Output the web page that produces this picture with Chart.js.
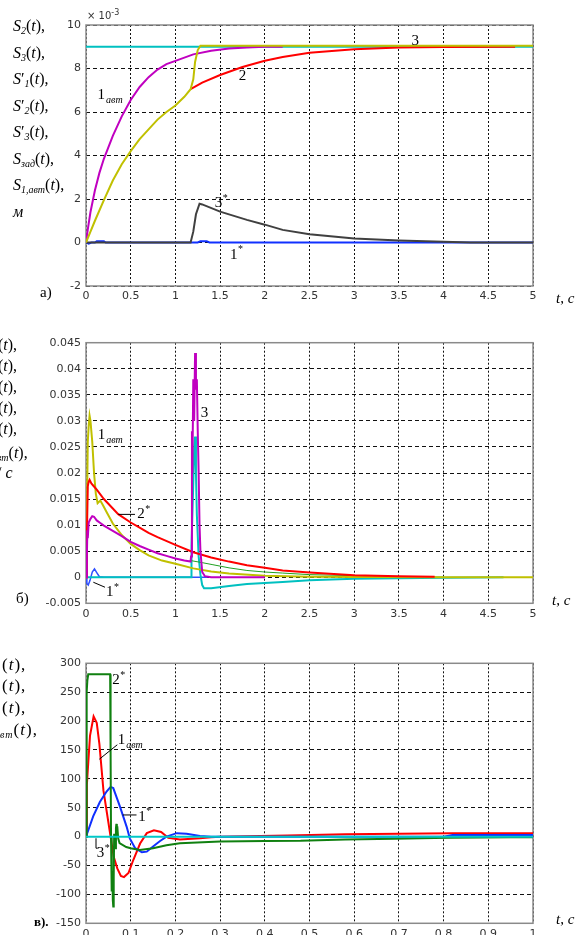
<!DOCTYPE html>
<html>
<head>
<meta charset="utf-8">
<script src="https://cdn.jsdelivr.net/npm/chart.js@4/dist/chart.umd.min.js"></script>
<style>
  html, body { margin: 0; padding: 0; background: #fff; overflow: hidden; }
  #page { position: relative; width: 586px; height: 935px; overflow: hidden; }
  canvas { position: absolute; left: 0; }
  .lbl { position: absolute; font-family: "Liberation Serif", "DejaVu Serif", serif; color: #000; white-space: nowrap; }
  .lbl i { font-style: italic; }
  .lbl sub { font-size: 10px; font-style: italic; vertical-align: -3px; }
  .ylab { font-size: 16px; line-height: 21.5px; }
  .tick { position: absolute; font-family: "DejaVu Sans", sans-serif; font-size: 10px; color: #333; }
</style>
</head>
<body>
<div id="page">
  <canvas id="chartA" width="586" height="310" style="top:0"></canvas>
  <canvas id="chartB" width="586" height="310" style="top:312px"></canvas>
  <canvas id="chartC" width="586" height="310" style="top:625px"></canvas>

  <!-- подписи оси Y, панель а -->
  <div class="lbl ylab" style="left:13px; top:15px">
    <div><i>S</i><sub>2</sub>(<i>t</i>),</div>
    <div><i>S</i><sub>3</sub>(<i>t</i>),</div>
    <div><i>S</i>′<sub>1</sub>(<i>t</i>),</div>
    <div><i>S</i>′<sub>2</sub>(<i>t</i>),</div>
    <div><i>S</i>′<sub>3</sub>(<i>t</i>),</div>
    <div><i>S</i><sub>зад</sub>(<i>t</i>),</div>
    <div><i>S</i><sub>1,авт</sub>(<i>t</i>),</div>
    <div><i>м</i></div>
  </div>
  <div class="tick" style="left:87px; top:8px">× 10<sup style="font-size:8px">-3</sup></div>

  <!-- панель б (обрезано слева) -->
  <div class="lbl ylab" style="left:-2px; top:334px; line-height:21px">
    <div>(<i>t</i>),</div>
    <div>(<i>t</i>),</div>
    <div>(<i>t</i>),</div>
    <div>(<i>t</i>),</div>
    <div>(<i>t</i>),</div>
  </div>
  <div class="lbl ylab" style="left:-8px; top:442px"><sub>авт</sub>(<i>t</i>),</div>
  <div class="lbl ylab" style="left:-3px; top:462px">/ <i>с</i></div>

  <!-- панель в (обрезано слева) -->
  <div class="lbl ylab" style="left:2px; top:654px; font-size:17px; letter-spacing:1px; line-height:21.3px">
    <div>(<i>t</i>),</div>
    <div>(<i>t</i>),</div>
    <div>(<i>t</i>),</div>
  </div>
  <div class="lbl ylab" style="left:-6px; top:719px; font-size:17px; letter-spacing:1px"><sub>авт</sub>(<i>t</i>),</div>

  <!-- буквы панелей и подписи оси t -->
  <div class="lbl" style="left:40px; top:284px; font-size:15px">а)</div>
  <div class="lbl" style="left:16px; top:590px; font-size:15px">б)</div>
  <div class="lbl" style="left:34px; top:914px; font-size:13px; font-weight:bold">в).</div>
  <div class="lbl" style="left:556px; top:290px; font-size:15px"><i>t</i>, <i>с</i></div>
  <div class="lbl" style="left:552px; top:592px; font-size:15px"><i>t</i>, <i>с</i></div>
  <div class="lbl" style="left:556px; top:911px; font-size:15px"><i>t</i>, <i>с</i></div>
</div>

<script>
// ---------- панель а: перемещения, ×10^-3 м ----------
const tA_zad = [0, 5];
const sA_zad = [9, 9];
const tA_1avt = [0, 0.02, 0.05, 0.1, 0.15, 0.2, 0.3, 0.4, 0.5, 0.6, 0.7, 0.8, 0.9, 1.0, 1.2, 1.4, 1.6, 1.8, 2.0, 2.2];
const sA_1avt = [0, 0.6, 1.4, 2.4, 3.2, 3.85, 4.9, 5.8, 6.55, 7.15, 7.6, 7.95, 8.2, 8.35, 8.65, 8.82, 8.92, 8.97, 9.0, 9.0];
const tA_3 = [0, 0.05, 0.1, 0.2, 0.3, 0.4, 0.5, 0.6, 0.7, 0.8, 0.9, 1.0, 1.1, 1.17, 1.2, 1.22, 1.25, 1.28, 5];
const sA_3 = [0, 0.5, 1.0, 1.95, 2.85, 3.6, 4.2, 4.75, 5.2, 5.65, 6.0, 6.3, 6.7, 7.05, 7.5, 8.3, 8.85, 9.05, 9.05];
const tA_2 = [1.17, 1.3, 1.5, 1.75, 2.0, 2.2, 2.5, 3, 3.5, 4, 4.8];
const sA_2 = [7.05, 7.35, 7.7, 8.07, 8.36, 8.53, 8.72, 8.88, 8.96, 8.99, 9.0];
const tA_3s = [0, 1.17, 1.2, 1.23, 1.27, 1.3, 1.5, 1.8, 2.0, 2.2, 2.5, 3, 3.5, 4, 4.3, 5];
const sA_3s = [0, 0, 0.5, 1.3, 1.78, 1.75, 1.42, 1.04, 0.82, 0.58, 0.38, 0.18, 0.09, 0.04, 0, 0];
const tA_1s = [0, 0.03, 0.06, 0.1, 0.12, 0.2, 0.22, 1.25, 1.28, 1.35, 1.38, 5];
const sA_1s = [0, -0.05, 0, 0, 0.06, 0.06, 0, 0, 0.06, 0.06, 0, 0];

// ---------- панель б: скорости, м/с ----------
const tB_3 = [0, 0.01, 0.02, 0.03, 0.04, 0.05, 0.07, 0.09, 0.11, 0.13, 0.16, 0.19, 0.23, 0.3, 0.4, 0.5, 0.6, 0.7, 0.85, 1.0, 1.2, 1.4, 1.6, 2.0, 2.5, 3, 4, 5];
const vB_3 = [0, 0.012, 0.026, 0.029, 0.031, 0.030, 0.026, 0.020, 0.016, 0.0142, 0.0147, 0.0138, 0.0125, 0.0103, 0.0081, 0.0064, 0.0052, 0.0042, 0.0032, 0.0026, 0.0017, 0.0011, 0.0007, 0.0003, 0.0001, 0.00005, 0, 0];
const tB_2 = [0, 0.01, 0.02, 0.03, 0.04, 0.06, 0.08, 0.12, 0.2, 0.3, 0.36, 0.5, 0.6, 0.7, 0.8, 1.0, 1.2, 1.4, 1.6, 1.8, 2.0, 2.2, 2.5, 3, 3.5, 3.9];
const vB_2 = [0, 0.008, 0.0175, 0.0183, 0.0187, 0.018, 0.0176, 0.0168, 0.015, 0.0132, 0.0121, 0.0105, 0.0095, 0.0085, 0.0077, 0.0062, 0.0048, 0.0038, 0.003, 0.0023, 0.0018, 0.0013, 0.0009, 0.0004, 0.0002, 0.0001];
const tB_1avt = [0, 0.01, 0.015, 0.02, 0.03, 0.05, 0.07, 0.09, 0.12, 0.16, 0.2, 0.3, 0.4, 0.5, 0.6, 0.7, 0.8, 0.9, 1.0, 1.1, 1.17, 1.175, 1.185, 1.19, 1.2, 1.21, 1.22, 1.23, 1.24, 1.25, 1.26, 1.27, 1.28, 1.3, 1.33, 1.4, 2.0];
const vB_1avt = [0, 0.004, 0.009, 0.0075, 0.0105, 0.0112, 0.0117, 0.0116, 0.0109, 0.0104, 0.0099, 0.0089, 0.0079, 0.0068, 0.006, 0.0053, 0.0046, 0.0041, 0.0036, 0.0032, 0.003, 0.004, 0.028, 0.02, 0.038, 0.03, 0.043, 0.036, 0.038, 0.028, 0.02, 0.01, 0.005, 0.001, 0.0002, 0, 0];
const tB_g = [1.17, 1.3, 1.42, 1.6, 1.8, 2.0, 2.2, 2.5, 3, 3.5, 4];
const vB_g = [0.0032, 0.0028, 0.0024, 0.0018, 0.0013, 0.001, 0.0008, 0.0005, 0.0003, 0.0001, 0];
const tB_zad = [0, 1.175, 1.18, 1.2, 1.21, 1.22, 1.23, 1.24, 1.26, 1.28, 1.3, 1.32, 1.4, 1.6, 1.8, 2.0, 2.2, 2.5, 3, 3.5, 4, 4.67];
const vB_zad = [0, 0, 0.006, 0.018, 0.025, 0.027, 0.02, 0.012, 0.004, 0.0005, -0.0015, -0.0021, -0.0021, -0.0017, -0.0013, -0.0011, -0.0009, -0.0006, -0.0003, -0.0002, -0.0001, 0];
const tB_1s = [0, 0.01, 0.025, 0.045, 0.07, 0.095, 0.12, 0.15, 0.2, 1.36];
const vB_1s = [0, -0.0012, -0.0015, -0.0006, 0.001, 0.0016, 0.0009, 0.0001, 0, 0];

// ---------- панель в: ускорения ----------
const tC_2s = [0, 0.001, 0.002, 0.003, 0.005, 0.054, 0.055, 0.056, 0.057, 0.058, 0.059, 0.06, 0.061, 0.062, 0.063, 0.065, 0.067, 0.068, 0.069, 0.07, 0.072, 0.075, 0.09, 0.1, 0.12, 0.15, 0.18, 0.21, 0.3, 0.4, 0.48, 0.58, 0.69, 0.81, 0.95, 1.0];
const aC_2s = [0, 200, 250, 270, 281, 281, 150, 0, -40, -95, -60, -110, -121, -70, 5, -20, 15, 22, 10, 18, -3, -11, -18, -20, -23, -20, -15, -11.5, -8.5, -7.5, -7.3, -5, -3.5, -2, -1, -1];
const tC_1avt = [0, 0.002, 0.004, 0.009, 0.017, 0.024, 0.03, 0.039, 0.047, 0.055, 0.062, 0.07, 0.078, 0.085, 0.095, 0.106, 0.121, 0.136, 0.152, 0.168, 0.184, 0.21, 0.255, 0.28, 0.3, 0.45, 0.58, 0.82, 1.0];
const aC_1avt = [0, 90, 115, 175, 208, 197, 160, 80, 40, 0, -35, -55, -68, -70, -63, -40, -12, 6, 11, 8, -2, -5, -3, -1, 0, 2, 4, 6, 6];
const tC_1s = [0, 0.016, 0.031, 0.046, 0.055, 0.061, 0.076, 0.091, 0.098, 0.11, 0.125, 0.136, 0.15, 0.165, 0.18, 0.203, 0.225, 0.255, 0.28, 0.8, 0.82, 1.0];
const aC_1s = [0, 35, 60, 78, 86, 84, 52, 17, -3, -20, -27, -26, -17, -8, 0, 6, 5, 1, 0, 0, 3, 3];
const tC_3s = [0, 1];
const aC_3s = [0, 0];

// шкалы
const xTicksA = { min: 0, max: 5, step: 0.5 };
const yTicksA = { min: -2, max: 10, step: 2 };
const yTicksB = { min: -0.005, max: 0.045, step: 0.005 };
const xTicksC = { min: 0, max: 1, step: 0.1 };
const yTicksC = { min: -150, max: 300, step: 50 };

function pts(ts, vs) {
    return ts.map((t, i) => ({ x: t, y: vs[i] }));
}

function line(ts, vs, color, width) {
    return {
        data: pts(ts, vs),
        borderColor: color,
        borderWidth: width || 2,
        pointRadius: 0,
        tension: 0,
        fill: false
    };
}

// рамка осей
const framePlugin = {
    id: 'frame',
    beforeDatasetsDraw(chart) {
        const a = chart.chartArea;
        const ctx = chart.ctx;
        ctx.save();
        ctx.strokeStyle = '#8a8a8a';
        ctx.lineWidth = 1.5;
        ctx.strokeRect(a.left, a.top, a.right - a.left, a.bottom - a.top);
        ctx.restore();
    }
};

// подписи кривых (в координатах данных)
function notes(items) {
    return {
        id: 'notes',
        afterDatasetsDraw(chart) {
            const ctx = chart.ctx;
            const xs = chart.scales.x, ys = chart.scales.y;
            ctx.save();
            ctx.fillStyle = '#000';
            ctx.strokeStyle = '#000';
            ctx.lineWidth = 1;
            items.forEach(it => {
                if (it.line) {
                    ctx.beginPath();
                    ctx.moveTo(xs.getPixelForValue(it.line[0]), ys.getPixelForValue(it.line[1]));
                    for (let k = 2; k < it.line.length; k += 2) {
                        ctx.lineTo(xs.getPixelForValue(it.line[k]), ys.getPixelForValue(it.line[k + 1]));
                    }
                    ctx.stroke();
                    return;
                }
                const px = xs.getPixelForValue(it.x);
                const py = ys.getPixelForValue(it.y);
                ctx.textBaseline = 'middle';
                ctx.textAlign = 'left';
                ctx.font = '15px "Liberation Serif", serif';
                ctx.fillText(it.text, px, py);
                const w = ctx.measureText(it.text).width;
                if (it.sub) {
                    ctx.font = 'italic 10px "Liberation Serif", serif';
                    ctx.fillText(it.sub, px + w + 1, py + 5);
                }
                if (it.sup) {
                    ctx.font = '10px "Liberation Serif", serif';
                    ctx.fillText(it.sup, px + w + 0.5, py - 5);
                }
            });
            ctx.restore();
        }
    };
}

function fmt(v) {
    return String(parseFloat(Number(v).toFixed(6)));
}

function makePanel(id, datasets, xr, yr, top, bottom, items) {
    const H = 310;
    return new Chart(document.getElementById(id), {
        type: 'line',
        data: { datasets: datasets },
        options: {
            responsive: false,
            animation: false,
            layout: { padding: { left: 0, right: 53, top: top, bottom: 0 } },
            plugins: { legend: { display: false }, tooltip: { enabled: false } },
            scales: {
                x: {
                    type: 'linear',
                    min: xr.min, max: xr.max,
                    afterFit: s => { s.height = H - bottom; },
                    grid: { color: '#111', lineWidth: 1, drawTicks: false },
                    border: { display: false, dash: [2, 2] },
                    ticks: {
                        stepSize: xr.step, autoSkip: false, maxRotation: 0, padding: 4,
                        color: '#333', font: { family: 'DejaVu Sans', size: 11 },
                        callback: fmt
                    }
                },
                y: {
                    type: 'linear',
                    min: yr.min, max: yr.max,
                    afterFit: s => { s.width = 86; },
                    grid: { color: '#111', lineWidth: 1, drawTicks: false },
                    border: { display: false, dash: [4, 3] },
                    ticks: {
                        stepSize: yr.step, autoSkip: false, padding: 5,
                        color: '#333', font: { family: 'DejaVu Sans', size: 11 },
                        callback: fmt
                    }
                }
            }
        },
        plugins: [framePlugin, notes(items)]
    });
}

// первый в списке рисуется сверху
makePanel('chartA', [
    line(tA_3, sA_3, '#c0c000'),
    line(tA_2, sA_2, '#ff0000'),
    line(tA_1avt, sA_1avt, '#c000c0'),
    line(tA_zad, sA_zad, '#00c0c0'),
    line(tA_3s, sA_3s, '#404040'),
    line(tA_1s, sA_1s, '#1030ff')
], xTicksA, yTicksA, 25, 286, [
    { x: 3.64, y: 9.28, text: '3' },
    { x: 1.71, y: 7.66, text: '2' },
    { x: 0.13, y: 6.78, text: '1', sub: 'авт' },
    { x: 1.44, y: 1.81, text: '3', sup: '*' },
    { x: 1.61, y: -0.56, text: '1', sup: '*' }
]);

makePanel('chartB', [
    line(tB_1avt, vB_1avt, '#c000c0'),
    line(tB_2, vB_2, '#ff0000'),
    line(tB_3, vB_3, '#c0c000'),
    line(tB_g, vB_g, '#20a020', 1),
    line(tB_zad, vB_zad, '#00c0c0'),
    line(tB_1s, vB_1s, '#3050ff', 1.5)
], xTicksA, yTicksB, 30.7, 291.3, [
    { x: 1.283, y: 0.0315, text: '3' },
    { x: 0.131, y: 0.0273, text: '1', sub: 'авт' },
    { line: [0.361, 0.01206, 0.548, 0.01206] },
    { x: 0.574, y: 0.01206, text: '2', sup: '*' },
    { line: [0.082, -0.00096, 0.2125, -0.00192] },
    { x: 0.224, y: -0.00288, text: '1', sup: '*' }
]);

makePanel('chartC', [
    line(tC_3s, aC_3s, '#00c8c8'),
    line(tC_2s, aC_2s, '#108010'),
    line(tC_1s, aC_1s, '#1030ff'),
    line(tC_1avt, aC_1avt, '#ff0000')
], xTicksC, yTicksC, 38.3, 298.3, [
    { x: 0.059, y: 271, text: '2', sup: '*' },
    { x: 0.071, y: 167, text: '1', sub: 'авт' },
    { line: [0.070, 159, 0.0298, 134] },
    { line: [0.082, 37.5, 0.113, 37.5] },
    { x: 0.117, y: 34.6, text: '1', sup: '*' },
    { line: [0.0224, -2.8, 0.0224, -20, 0.026, -20] },
    { x: 0.024, y: -28.8, text: '3', sup: '*' }
]);
</script>
</body>
</html>
